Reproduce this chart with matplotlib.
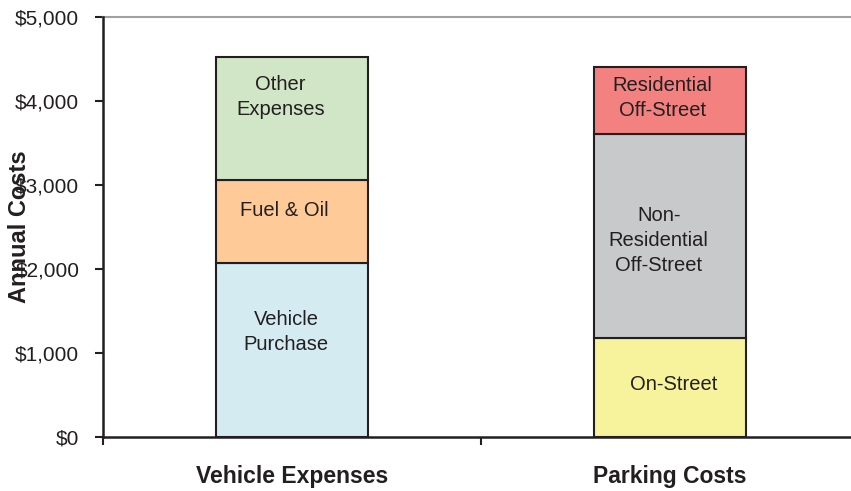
import numpy as np
import matplotlib.pyplot as plt
from matplotlib.ticker import FuncFormatter, FixedLocator

# data
groups = ["Vehicle Expenses", "Parking Costs"]
vehicle_parts = ["Vehicle\nPurchase", "Fuel & Oil", "Other\nExpenses"]
vehicle_vals = [2070, 990, 1465]
parking_parts = ["On-Street", "Non-\nResidential\nOff-Street", "Residential\nOff-Street"]
parking_vals = [1180, 2425, 800]

vehicle_colors = ["#D4EBF2", "#FDCA98", "#D0E6C6"]
parking_colors = ["#F7F39C", "#C8C9CB", "#F38180"]

plt.rcParams["font.family"] = ["Liberation Sans", "DejaVu Sans"]
dark = "#231F20"

fig = plt.figure(figsize=(8.51, 4.91), dpi=100)
ax = fig.add_axes([103 / 851, 54 / 491, 756 / 851, 420 / 491])

width = 0.4
# label offsets relative to segment middle (data units), and x shifts
veh_dy = [210, 135, 250]
veh_dx = [-0.015, -0.02, -0.03]
park_dy = [40, -50, 30]
park_dx = [0.01, -0.03, -0.02]


def stack(x, vals, colors, labels, dys, dxs):
    bottom = 0
    for v, c, lab, dy, dx in zip(vals, colors, labels, dys, dxs):
        ax.bar(x, v, width, bottom=bottom, color=c, edgecolor=dark,
               linewidth=1.5, zorder=3)
        ax.text(x + dx, bottom + v / 2 + dy, lab, ha="center", va="center",
                fontsize=14.5, color="#231F20", linespacing=1.4, zorder=4)
        bottom += v


stack(0, vehicle_vals, vehicle_colors, vehicle_parts, veh_dy, veh_dx)
stack(1, parking_vals, parking_colors, parking_parts, park_dy, park_dx)

ax.set_xlim(-0.5, 1.5)
ax.set_ylim(0, 5000)
ax.set_yticks(np.arange(0, 5001, 1000))
ax.yaxis.set_major_formatter(FuncFormatter(lambda v, p: f"${v:,.0f}"))
ax.tick_params(axis="y", labelsize=15, colors=dark, length=6, width=1.5,
               direction="out", pad=11)

ax.set_xticks([0, 1])
ax.set_xticklabels(groups, fontsize=16.5, fontweight="bold", color=dark)
ax.tick_params(axis="x", which="major", length=0, pad=20)
ax.xaxis.set_minor_locator(FixedLocator([-0.5, 0.5, 1.5]))
ax.tick_params(axis="x", which="minor", length=6, width=1.5, color=dark,
               direction="out")

for s in ["top", "right"]:
    ax.spines[s].set_visible(False)
for s in ["left", "bottom"]:
    ax.spines[s].set_color(dark)
    ax.spines[s].set_linewidth(1.8)

ax.axhline(5000, color="#A0A0A0", linewidth=1.5, clip_on=False, zorder=2)

fig.text(20 / 851, 1 - 227 / 491, "Annual Costs", rotation=90, ha="center",
         va="center", fontsize=17, fontweight="bold", color=dark)

fig.savefig("out.png", dpi=100)
